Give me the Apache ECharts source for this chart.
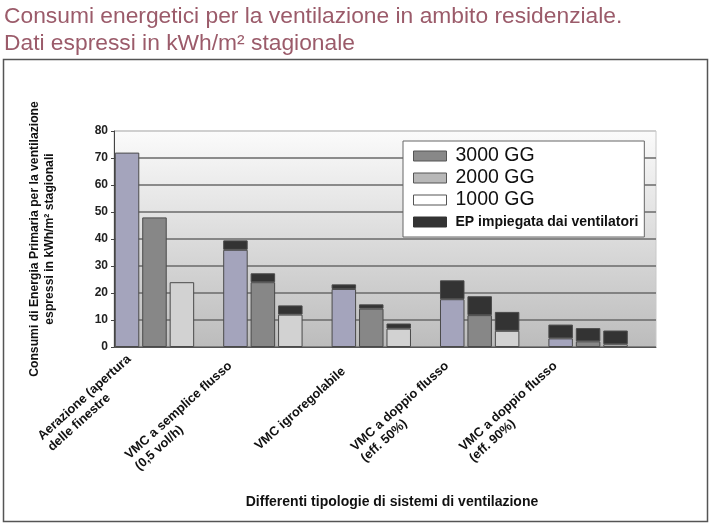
<!DOCTYPE html>
<html><head><meta charset="utf-8">
<script src="https://cdn.jsdelivr.net/npm/echarts@6/dist/echarts.min.js"></script>
<style>html,body{margin:0;padding:0;background:#fff}#c{width:711px;height:525px}</style>
</head><body><div id="c"></div>
<script>
const categories = ['Aerazione (apertura\ndelle finestre', 'VMC a semplice flusso\n(0,5 vol/h)', 'VMC igroregolabile', 'VMC a doppio flusso\n(eff. 50%)', 'VMC a doppio flusso\n(eff. 90%)'];
const base3000 = [72, 36, 21.5, 17.7, 3.2];
const fan3000  = [null, 3.5, 1.7, 7.0, 5.1];
const base2000 = [48, 24, 14.2, 11.8, 2.1];
const fan2000  = [null, 3.3, 1.6, 7.0, 4.9];
const base1000 = [24, 12, 6.8, 6.0, 1.0];
const fan1000  = [null, 3.4, 1.9, 7.0, 5.1];
const legendNames = ['3000 GG', '2000 GG', '1000 GG', 'EP impiegata dai ventilatori'];
const FAN = legendNames[3];
const FONT = "'Liberation Sans', Arial, Helvetica, sans-serif";

const chart = echarts.init(document.getElementById('c'), null, {renderer: 'canvas'});
const barCommon = {type: 'bar', xAxisIndex: 0, yAxisIndex: 0, barWidth: 24.5, barGap: '12%', silent: true,
  itemStyle: {borderColor: '#4a4a4a', borderWidth: 1}};
function bar(name, stack, data, color) {
  return Object.assign({}, barCommon, {name, stack, data, itemStyle: Object.assign({}, barCommon.itemStyle, {color})});
}
const labelStyle = {align: 'left', fontSize: 12.8, fontWeight: 'bold', color: '#111', fontFamily: FONT, lineHeight: 15};
chart.setOption({
  animation: false,
  textStyle: {fontFamily: FONT},
  title: {
    text: 'Consumi energetici per la ventilazione in ambito residenziale.\nDati espressi in kWh/m² stagionale',
    left: 4, top: 3.5, padding: 0,
    textStyle: {color: '#9b5b6a', fontSize: 22.8, fontWeight: 'normal', fontFamily: FONT, lineHeight: 27}
  },
  graphic: [{type: 'rect', shape: {x: 3.5, y: 59.5, width: 704, height: 462}, style: {fill: 'none', stroke: '#555', lineWidth: 1.5}, z: 100}],
  legend: {
    orient: 'vertical', left: 403, top: 141, icon: 'rect',
    backgroundColor: '#fff', borderColor: '#666', borderWidth: 1,
    padding: [5, 6, 5, 10], itemGap: 2, itemWidth: 33, itemHeight: 10,
    data: [
      {name: legendNames[0], itemStyle: {color: '#888888', borderColor: '#555', borderWidth: 1}},
      {name: legendNames[1], itemStyle: {color: '#b8b8b8', borderColor: '#555', borderWidth: 1}},
      {name: legendNames[2], itemStyle: {color: '#ffffff', borderColor: '#555', borderWidth: 1}},
      {name: legendNames[3], itemStyle: {color: '#333333', borderColor: '#333', borderWidth: 1}}
    ],
    formatter: n => n === FAN ? '{s|' + n + '}' : '{b|' + n + '}',
    textStyle: {fontSize: 19.5, lineHeight: 20, rich: {
      b: {fontSize: 19.5, color: '#111', fontFamily: FONT, lineHeight: 20, height: 20, padding: [0, 0, 0, 4]},
      s: {fontSize: 14, fontWeight: 'bold', color: '#111', fontFamily: FONT, lineHeight: 20, height: 20, padding: [0, 0, 0, 4]}
    }}
  },
  grid: [
    {left: 114, right: 55, top: 131, bottom: 178, show: true, borderColor: '#c8c8c8', borderWidth: 1,
     backgroundColor: new echarts.graphic.LinearGradient(0, 0, 0, 1, [{offset: 0, color: '#fbfbfb'}, {offset: 1, color: '#bcbcbc'}])},
    {left: 80, right: 89, top: 131, bottom: 178}
  ],
  xAxis: [
    {type: 'category', gridIndex: 0, data: categories,
     axisLine: {lineStyle: {color: '#555', width: 1}}, axisTick: {show: false}, axisLabel: {show: false},
     name: 'Differenti tipologie di sistemi di ventilazione', nameLocation: 'middle', nameGap: 148,
     nameTextStyle: {fontSize: 14, fontWeight: 'bold', color: '#111', fontFamily: FONT, padding: [0, 0, 0, 14]}},
    {type: 'category', gridIndex: 1, data: categories,
     axisLine: {show: false}, axisTick: {show: false}, splitLine: {show: false},
     axisLabel: {interval: 0, rotate: 42, margin: 16,
       formatter: (v, i) => v.split('\n').map(l => (i === 0 ? '{a|' : '{p|') + l + '}').join('\n'),
       rich: {a: labelStyle, p: Object.assign({}, labelStyle, {padding: [0, 10, 0, 0]})}}}
  ],
  yAxis: [
    {type: 'value', gridIndex: 0, min: 0, max: 80, interval: 10,
     axisLine: {show: true, lineStyle: {color: '#444', width: 1}},
     axisTick: {show: true, length: 3, lineStyle: {color: '#444'}},
     axisLabel: {fontSize: 12, fontWeight: 'bold', color: '#222', margin: 6, fontFamily: FONT},
     splitLine: {show: true, lineStyle: {color: ['#6a6a6a','#6a6a6a','#6a6a6a','#6a6a6a','#6a6a6a','#6a6a6a','#6a6a6a','#6a6a6a','#c8c8c8'], width: 1.5}},
     name: 'Consumi di Energia Primaria per la ventilazione\nespressi in kWh/m² stagionali',
     nameLocation: 'middle', nameGap: 57,
     nameTextStyle: {fontSize: 12.2, fontWeight: 'bold', color: '#111', lineHeight: 15, fontFamily: FONT}},
    {type: 'value', gridIndex: 1, min: 0, max: 80, show: false}
  ],
  series: [
    bar(legendNames[0], 's1', base3000, '#a4a4bc'),
    bar(FAN, 's1', fan3000, '#333333'),
    bar(legendNames[1], 's2', base2000, '#878787'),
    bar(FAN, 's2', fan2000, '#333333'),
    bar(legendNames[2], 's3', base1000, '#d2d2d2'),
    bar(FAN, 's3', fan1000, '#333333'),
    Object.assign({}, barCommon, {name: 'spacer', stack: 's4', data: categories.map(() => null), itemStyle: {opacity: 0}})
  ]
});
</script></body></html>
